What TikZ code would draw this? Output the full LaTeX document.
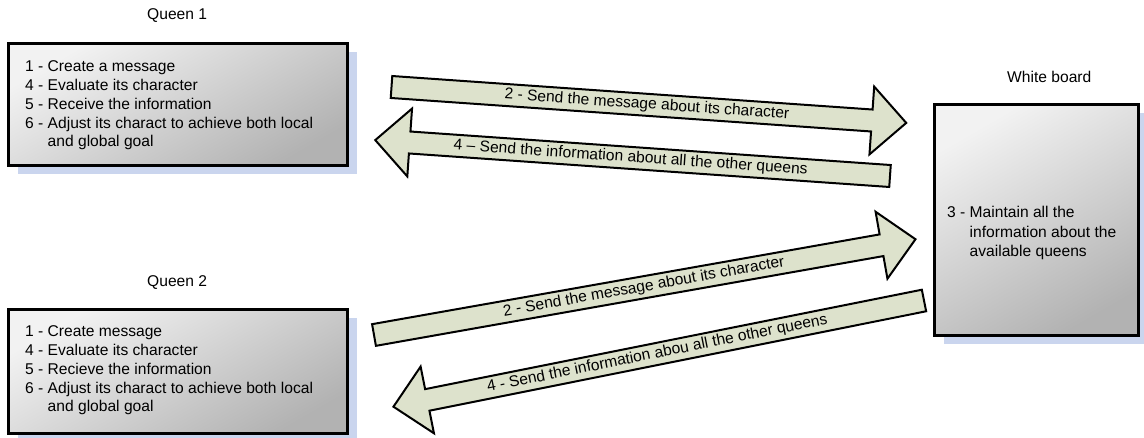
\documentclass[tikz,border=0pt]{standalone}
\usepackage{fontspec}
\setmainfont{Liberation Sans}
\usetikzlibrary{shadows}
\definecolor{arrowfill}{RGB}{221,226,204}
\definecolor{shadowblue}{RGB}{202,213,238}
% block arrow along the local x axis: tail at the origin, tip at #1
\newcommand\blockarrowpath[1]{%
  \draw[blockarrow] (0,-11) -- ({#1-36},-11) -- ({#1-36},-34) -- ({#1-1.5},0)
    -- ({#1-36},34) -- ({#1-36},11) -- (0,11) -- cycle;}
\begin{document}
\begin{tikzpicture}[x=1pt,y=-1pt,
  box/.style={draw=black, line width=3pt, inner sep=0pt,
    top color=black!5, bottom color=black!30, shading angle=30,
    general shadow={fill=shadowblue, shadow xshift=9pt, shadow yshift=-9pt}},
  blockarrow/.style={draw=black, line width=2pt, fill=arrowfill, line join=miter},
  txt/.style={font=\fontsize{15.6}{18.75}\selectfont, inner sep=0pt},
  wbtxt/.style={font=\fontsize{15.6}{19.5}\selectfont, inner sep=0pt},
  arrowtxt/.style={font=\fontsize{15.6}{18}\selectfont, inner sep=0pt},
]
\useasboundingbox (0,0) rectangle (1144,438);

% the three agents
\node[box, minimum width=339pt, minimum height=122pt] (queen1) at (178,104.5) {};
\node[box, minimum width=339pt, minimum height=124pt] (queen2) at (178,371.5) {};
\node[box, minimum width=204pt, minimum height=231pt] (board) at (1036.5,220) {};

% titles
\node[txt, anchor=base west] (queen1title) at (147,20) {Queen 1};
\node[txt, anchor=base west] (queen2title) at (147,287) {Queen 2};
\node[txt, anchor=base west] (boardtitle) at (1007,83) {White board};

% box contents
\node[txt, anchor=base west] (queen1text) at (25,72) {\begin{tabular}[t]{@{}l@{}}
  1 - Create a message\\
  4 - Evaluate its character\\
  5 - Receive the information\\
  6 - Adjust its charact to achieve both local\\
  \hphantom{6 - }and global goal\end{tabular}};
\node[txt, anchor=base west] (queen2text) at (25,337) {\begin{tabular}[t]{@{}l@{}}
  1 - Create message\\
  4 - Evaluate its character\\
  5 - Recieve the information\\
  6 - Adjust its charact to achieve both local\\
  \hphantom{6 - }and global goal\end{tabular}};
\node[wbtxt, anchor=base west] (boardtext) at (947,218) {\begin{tabular}[t]{@{}l@{}}
  3 - Maintain all the\\
  \hphantom{3 - }information about the\\
  \hphantom{3 - }available queens\end{tabular}};

% Queen 1 -> white board
\begin{scope}[shift={(391.5,87)}, rotate=-3.99]
  \coordinate (sendOneTail) at (0,0);
  \blockarrowpath{517.5}
  \node[arrowtxt, transform shape] (sendOne) at (256,0) {2 - Send the message about its character};
\end{scope}
% white board -> Queen 1
\begin{scope}[shift={(890,176)}, rotate=176.01]
  \coordinate (infoOneTail) at (0,0);
  \blockarrowpath{517.5}
  \node[arrowtxt, transform shape, rotate=180] (infoOne) at (260,0) {4 -- Send the information about all the other queens};
\end{scope}
% Queen 2 -> white board
\begin{scope}[shift={(374,335)}, rotate=10.03]
  \coordinate (sendTwoTail) at (0,0);
  \blockarrowpath{551.4}
  \node[arrowtxt, transform shape] (sendTwo) at (274,0) {2 - Send the message about its character};
\end{scope}
% white board -> Queen 2
\begin{scope}[shift={(924,300.5)}, rotate=191.32]
  \coordinate (infoTwoTail) at (0,0);
  \blockarrowpath{542.6}
  \node[arrowtxt, transform shape, rotate=180] (infoTwo) at (272,0) {4 - Send the information abou all the other queens};
\end{scope}
\end{tikzpicture}
\end{document}
